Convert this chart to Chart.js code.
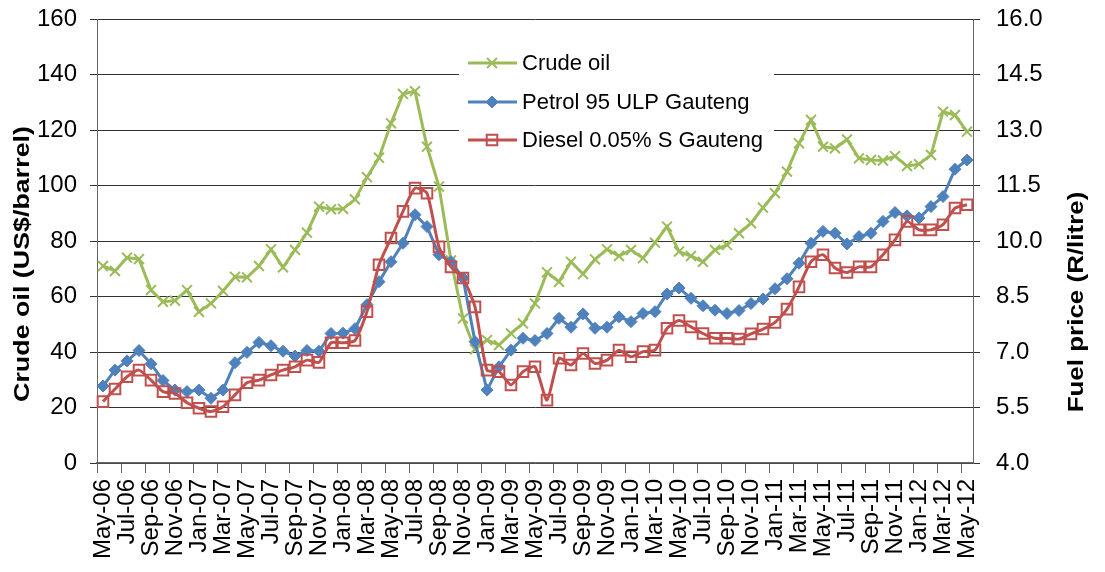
<!DOCTYPE html>
<html>
<head>
<meta charset="utf-8">
<script src="https://cdn.jsdelivr.net/npm/chart.js@4.4.1/dist/chart.umd.min.js"></script>
<style>
    html, body { margin: 0; padding: 0; background: #fff; }
</style>
</head>
<body>
<canvas id="fuelChart" width="1105" height="572"></canvas>
<script>
/* Monate Mai 2006 bis Mai 2012 */
const months = [
    'May-06', 'Jun-06', 'Jul-06', 'Aug-06', 'Sep-06', 'Oct-06', 'Nov-06', 'Dec-06',
    'Jan-07', 'Feb-07', 'Mar-07', 'Apr-07', 'May-07', 'Jun-07', 'Jul-07', 'Aug-07', 'Sep-07', 'Oct-07', 'Nov-07', 'Dec-07',
    'Jan-08', 'Feb-08', 'Mar-08', 'Apr-08', 'May-08', 'Jun-08', 'Jul-08', 'Aug-08', 'Sep-08', 'Oct-08', 'Nov-08', 'Dec-08',
    'Jan-09', 'Feb-09', 'Mar-09', 'Apr-09', 'May-09', 'Jun-09', 'Jul-09', 'Aug-09', 'Sep-09', 'Oct-09', 'Nov-09', 'Dec-09',
    'Jan-10', 'Feb-10', 'Mar-10', 'Apr-10', 'May-10', 'Jun-10', 'Jul-10', 'Aug-10', 'Sep-10', 'Oct-10', 'Nov-10', 'Dec-10',
    'Jan-11', 'Feb-11', 'Mar-11', 'Apr-11', 'May-11', 'Jun-11', 'Jul-11', 'Aug-11', 'Sep-11', 'Oct-11', 'Nov-11', 'Dec-11',
    'Jan-12', 'Feb-12', 'Mar-12', 'Apr-12', 'May-12'
];

/* US$/barrel (linke Achse) */
const crudeOil = [
    71.0, 69.2, 74.0, 73.5, 62.3, 58.1, 58.5, 62.3, 54.5, 57.5,
    62.0, 67.1, 66.9, 71.0, 77.0, 70.5, 76.8, 83.0, 92.4, 91.4,
    91.6, 95.0, 103.0, 110.0, 122.4, 133.0, 134.0, 114.0, 99.6, 73.0,
    52.1, 41.0, 44.3, 42.5, 46.7, 50.3, 57.5, 68.7, 65.3, 72.5,
    68.1, 73.4, 77.0, 74.6, 76.8, 73.8, 79.4, 85.2, 76.2, 74.6,
    72.5, 76.8, 78.6, 82.8, 86.4, 92.0, 97.2, 105.0, 115.2, 123.6,
    114.0, 113.4, 116.6, 109.8, 109.2, 109.0, 110.6, 107.0, 107.7, 111.0,
    126.6, 125.4, 119.4
];

/* R/litre (rechte Achse) */
const petrol95 = [
    6.08, 6.51, 6.76, 7.04, 6.68, 6.23, 5.97, 5.93, 5.97, 5.75,
    5.97, 6.71, 6.99, 7.26, 7.17, 7.02, 6.89, 7.04, 7.02, 7.50,
    7.51, 7.63, 8.28, 8.90, 9.44, 9.94, 10.71, 10.39, 9.63, 9.44,
    9.00, 7.28, 5.97, 6.60, 7.05, 7.37, 7.31, 7.50, 7.91, 7.67,
    8.03, 7.64, 7.67, 7.95, 7.82, 8.04, 8.09, 8.57, 8.73, 8.45,
    8.25, 8.13, 8.04, 8.12, 8.31, 8.43, 8.71, 8.98, 9.40, 9.94,
    10.26, 10.21, 9.92, 10.12, 10.21, 10.53, 10.77, 10.68, 10.62, 10.93,
    11.20, 11.94, 12.19
];

const diesel005 = [
    5.66, 6.00, 6.33, 6.51, 6.24, 5.93, 5.88, 5.63, 5.48, 5.39,
    5.52, 5.84, 6.17, 6.24, 6.38, 6.51, 6.60, 6.78, 6.72, 7.25,
    7.25, 7.31, 8.09, 9.36, 10.08, 10.80, 11.43, 11.29, 9.84, 9.30,
    9.00, 8.22, 6.51, 6.47, 6.11, 6.47, 6.60, 5.70, 6.83, 6.65,
    6.96, 6.69, 6.78, 7.05, 6.87, 7.01, 7.05, 7.64, 7.85, 7.68,
    7.50, 7.37, 7.37, 7.35, 7.49, 7.62, 7.80, 8.16, 8.76, 9.44,
    9.63, 9.27, 9.15, 9.30, 9.30, 9.63, 10.03, 10.53, 10.30, 10.30,
    10.44, 10.89, 10.98
];

const FONT = "'Liberation Sans', Arial, sans-serif";
const GRID = '#333';
const AXIS = '#666';

/* Legende im Diagramm (weißer Kasten über den Gitterlinien) */
const insideLegend = {
    id: 'insideLegend',
    afterDatasetsDraw(chart) {
        const ctx = chart.ctx;
        const rows = [63, 102, 140];
        ctx.save();
        ctx.fillStyle = '#fff';
        ctx.fillRect(459, 42, 315, 118);
        chart.data.datasets.forEach((ds, i) => {
            const y = rows[i];
            ctx.strokeStyle = ds.borderColor;
            ctx.lineWidth = ds.borderWidth;
            ctx.beginPath();
            ctx.moveTo(468, y);
            ctx.lineTo(517, y);
            ctx.stroke();
            ctx.fillStyle = ds.pointBackgroundColor;
            ctx.strokeStyle = ds.pointBorderColor;
            ctx.lineWidth = ds.pointBorderWidth;
            Chart.helpers.drawPoint(ctx, {
                pointStyle: ds.pointStyle,
                radius: ds.pointRadius,
                borderWidth: ds.pointBorderWidth,
                rotation: 0
            }, 492, y);
            ctx.fillStyle = '#000';
            ctx.font = '22px ' + FONT;
            ctx.textAlign = 'left';
            ctx.textBaseline = 'middle';
            ctx.fillText(ds.label, 522, y + 1);
        });
        ctx.restore();
    }
};

/* Achsentitel, gestreckt wie im Original */
const axisTitles = {
    id: 'axisTitles',
    afterDraw(chart) {
        const ctx = chart.ctx;
        const draw = (text, x, y, stretch) => {
            ctx.save();
            ctx.translate(x, y);
            ctx.rotate(-Math.PI / 2);
            ctx.scale(stretch, 1);
            ctx.font = 'bold 22px ' + FONT;
            ctx.fillStyle = '#000';
            ctx.textAlign = 'center';
            ctx.textBaseline = 'middle';
            ctx.fillText(text, 0, 0);
            ctx.restore();
        };
        draw('Crude oil (US$/barrel)', 23, 264, 1.22);
        draw('Fuel price (R/litre)', 1077, 302, 1.18);
    }
};

/* Feste Breite, ohne Zusatzabstand oben/unten */
function fixYAxis(width) {
    return (s) => {
        s.width = width;
        s.paddingTop = 0;
        s.paddingBottom = 0;
    };
}

new Chart(document.getElementById('fuelChart').getContext('2d'), {
    type: 'line',
    data: {
        labels: months,
        datasets: [
            {
                label: 'Crude oil',
                data: crudeOil,
                yAxisID: 'y',
                borderColor: '#9BBB59',
                borderWidth: 3,
                pointStyle: 'crossRot',
                pointRadius: 7,
                pointBorderWidth: 2,
                pointBorderColor: '#9BBB59',
                pointBackgroundColor: '#9BBB59',
                tension: 0,
                order: 2
            },
            {
                label: 'Petrol 95 ULP Gauteng',
                data: petrol95,
                yAxisID: 'y1',
                borderColor: '#4F81BD',
                borderWidth: 3,
                pointStyle: 'rectRot',
                pointRadius: 6,
                pointBorderWidth: 1,
                pointBorderColor: '#4F81BD',
                pointBackgroundColor: '#4F81BD',
                tension: 0,
                order: 1
            },
            {
                label: 'Diesel 0.05% S Gauteng',
                data: diesel005,
                yAxisID: 'y1',
                borderColor: '#C0504D',
                borderWidth: 3,
                pointStyle: 'rect',
                pointRadius: 7.5,
                pointBorderWidth: 2,
                pointBorderColor: '#C0504D',
                pointBackgroundColor: 'rgba(255,255,255,0)',
                tension: 0.2,
                order: 0
            }
        ]
    },
    options: {
        responsive: false,
        animation: false,
        devicePixelRatio: 1,
        layout: { padding: { top: 19, left: 0, right: 0, bottom: 0 } },
        plugins: { legend: { display: false }, tooltip: { enabled: false } },
        scales: {
            x: {
                offset: true,
                afterFit: (s) => { s.height = 109; },
                grid: {
                    offset: true,
                    drawOnChartArea: false,
                    tickLength: 10,
                    color: (c) => (c.index % 2 === 0 && c.index < months.length ? AXIS : 'rgba(0,0,0,0)')
                },
                border: { color: AXIS, width: 1.5 },
                ticks: {
                    autoSkip: false,
                    minRotation: 90,
                    maxRotation: 90,
                    padding: 6,
                    color: '#000',
                    font: { family: FONT, size: 24 },
                    callback: (v, i) => (i % 2 === 0 ? months[i] : '')
                }
            },
            y: {
                position: 'left',
                min: 0,
                max: 160,
                afterFit: fixYAxis(97),
                grid: { color: GRID, tickLength: 7 },
                border: { color: AXIS, width: 1 },
                ticks: {
                    stepSize: 20,
                    padding: 13,
                    color: '#000',
                    font: { family: FONT, size: 24 }
                }
            },
            y1: {
                position: 'right',
                min: 4,
                max: 16,
                afterFit: fixYAxis(132),
                grid: { drawOnChartArea: false, color: GRID, tickLength: 7 },
                border: { color: AXIS, width: 1 },
                ticks: {
                    stepSize: 1.5,
                    padding: 16,
                    color: '#000',
                    font: { family: FONT, size: 24 },
                    callback: (v) => v.toFixed(1)
                }
            }
        }
    },
    plugins: [insideLegend, axisTitles]
});
</script>
</body>
</html>
